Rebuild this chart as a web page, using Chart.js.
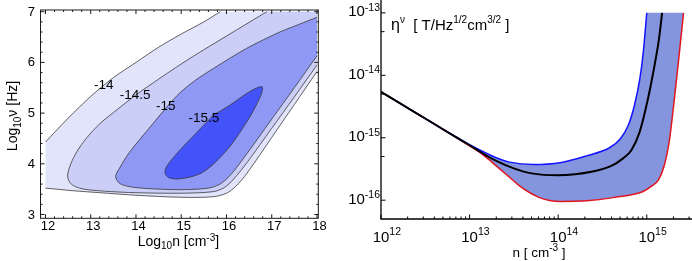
<!DOCTYPE html>
<html>
<head>
<meta charset="utf-8">
<script src="https://cdn.jsdelivr.net/npm/chart.js@4.4.0/dist/chart.umd.min.js"></script>
<style>
  body { margin: 0; background: #fff; }
  #wrap { position: relative; width: 692px; height: 261px; }
  .box { position: absolute; top: 0; width: 346px; height: 261px; }
</style>
</head>
<body>
<div id="wrap">
  <div class="box" style="left:0"><canvas id="contour" width="346" height="261"></canvas></div>
  <div class="box" style="left:346px"><canvas id="eta" width="346" height="261"></canvas></div>
</div>
<script>
// ---- left panel: contour lines of log10(eta), [log10 n, log10 nu] ----
const leftX = [12, 13, 14, 15, 16, 17, 18];
const leftY = [3, 4, 5, 6, 7];

// -14 level: upper branch (left edge -> top edge) and lower branch (left edge -> right edge)
const c14Upper = [[12, 4.43], [12.5, 4.9], [13.0, 5.33], [13.5, 5.7], [14.0, 6.0], [14.5, 6.3], [15.0, 6.56], [15.5, 6.8], [15.86, 7.0]];
const c14Lower = [[12, 3.52], [12.6, 3.47], [13.2, 3.43], [14.0, 3.38], [15.0, 3.34], [15.7, 3.35], [16.0, 3.42], [16.2, 3.55], [16.45, 3.81], [17.0, 4.52], [17.5, 5.17], [18.0, 5.82]];
// -14.5 level: top edge -> bend -> right edge
const c145 = [[16.89, 7.0], [16.5, 6.79], [16.0, 6.52], [15.5, 6.25], [15.0, 5.97], [14.5, 5.67], [14.0, 5.36], [13.6, 5.08], [13.2, 4.79], [12.9, 4.5], [12.7, 4.25], [12.56, 4.0], [12.49, 3.78], [12.53, 3.64], [12.66, 3.55], [12.85, 3.5], [13.3, 3.46], [14.0, 3.43], [15.0, 3.42], [15.7, 3.45], [15.95, 3.53], [16.15, 3.69], [16.45, 4.02], [17.0, 4.7], [17.5, 5.32], [18.0, 5.95]];
// -15 level: right edge -> bend -> right edge
const c15 = [[18.0, 6.89], [17.6, 6.75], [17.18, 6.6], [16.45, 6.28], [15.71, 5.88], [15.3, 5.64], [14.97, 5.4], [14.7, 5.14], [14.27, 4.68], [13.85, 4.22], [13.64, 3.92], [13.55, 3.75], [13.63, 3.62], [13.8, 3.56], [14.0, 3.53], [14.5, 3.5], [15.0, 3.49], [15.6, 3.52], [15.86, 3.6], [16.08, 3.77], [16.37, 4.1], [17.0, 4.88], [17.5, 5.5], [18.0, 6.13]];
// -15.5 level: closed loop
const c155 = [[15.71, 4.96], [16.08, 5.16], [16.45, 5.39], [16.65, 5.49], [16.79, 5.52], [16.78, 5.4], [16.67, 5.18], [16.52, 4.93], [16.1, 4.37], [15.72, 4.0], [15.45, 3.82], [15.2, 3.74], [14.9, 3.7], [14.72, 3.73], [14.64, 3.82], [14.68, 3.95], [14.9, 4.2], [15.27, 4.55], [15.71, 4.96]];

const levelText = ['-14', '-14.5', '-15', '-15.5'];
const levelAt = [[13.29, 5.55], [13.98, 5.36], [14.66, 5.13], [15.5, 4.9]];

// ---- right panel: eta vs n (log-log) ----
const nBlack = [1e12, 2.34e12, 5.5e12, 1e13, 1.41e13, 2.0e13, 3.16e13, 5.01e13, 1.0e14, 2.45e14, 3.98e14, 5.4e14, 6.7e14, 8.3e14, 1.03e15, 1.22e15, 1.37e15, 1.49e15];
const etaBlack = [5.43e-15, 2.63e-15, 1.26e-15, 7.59e-16, 5.62e-16, 4.27e-16, 3.24e-16, 2.69e-16, 2.51e-16, 2.88e-16, 3.55e-16, 4.68e-16, 6.31e-16, 1.23e-15, 4.17e-15, 1.41e-14, 3.72e-14, 1.0e-13];
const nBlue = [1e12, 2.34e12, 5.5e12, 1e13, 1.41e13, 2.0e13, 2.82e13, 5.25e13, 1.05e14, 2.09e14, 3.80e14, 5.01e14, 6.17e14, 7.24e14, 8.32e14, 9.12e14, 1.0e15];
const etaBlue = [5.43e-15, 2.63e-15, 1.26e-15, 7.76e-16, 6.03e-16, 4.79e-16, 4.07e-16, 3.72e-16, 3.98e-16, 5.13e-16, 6.92e-16, 9.55e-16, 1.57e-15, 3.26e-15, 8.5e-15, 2.29e-14, 1.0e-13];
const nRed = [1e12, 2.34e12, 5.5e12, 1e13, 1.41e13, 2.0e13, 3.09e13, 3.72e13, 6.17e13, 1.05e14, 2.09e14, 4.17e14, 9.12e14, 1.12e15, 1.35e15, 1.58e15, 1.81e15, 2.04e15, 2.29e15, 2.60e15];
const etaRed = [5.43e-15, 2.63e-15, 1.26e-15, 7.41e-16, 5.37e-16, 3.55e-16, 2.09e-16, 1.66e-16, 1.10e-16, 9.55e-17, 9.77e-17, 1.10e-16, 1.38e-16, 1.66e-16, 2.09e-16, 3.63e-16, 9.55e-16, 3.98e-15, 1.78e-14, 1.0e-13];

const nTicks = [1e12, 1e13, 1e14, 1e15];
const nTickExp = ['12', '13', '14', '15'];
const etaTicks = [1e-13, 1e-14, 1e-15, 1e-16];
const etaTickExp = ['-13', '-14', '-15', '-16'];
const nMax = 3.24e15;

const FAM = '"Liberation Sans", Arial, Helvetica, sans-serif';

function rich(ctx, parts, x, y, align) {
  let w = 0;
  for (const p of parts) { ctx.font = p.s + 'px ' + FAM; w += ctx.measureText(p.t).width; }
  let cx = align === 'center' ? x - w / 2 : (align === 'right' ? x - w : x);
  ctx.textAlign = 'left';
  ctx.textBaseline = 'alphabetic';
  for (const p of parts) {
    ctx.font = p.s + 'px ' + FAM;
    ctx.fillText(p.t, cx, y - (p.r || 0));
    cx += ctx.measureText(p.t).width;
  }
  return w;
}

const xy = arr => arr.map(p => ({x: p[0], y: p[1]}));
const last = arr => arr[arr.length - 1];

// fill regions built from the contour lines plus the plot corner (18, 7)
const r14 = [...c14Upper, last(c14Upper), [18, 7], [18, 7], last(c14Lower), ...c14Lower.slice().reverse()];
const r145 = [...c145, last(c145), [18, 7]];

function region(pts, color, order) {
  return {data: xy(pts), fill: 'shape', backgroundColor: color, borderColor: 'rgba(0,0,0,0)',
    borderWidth: 0, pointRadius: 0, tension: 0.3, order: order};
}
function contourLine(pts) {
  return {data: xy(pts), fill: false, borderColor: '#3a3a3a', borderWidth: 0.8,
    pointRadius: 0, tension: 0.3, order: 1};
}

const leftDeco = {
  id: 'leftDeco',
  afterDatasetsDraw(chart) {
    const {ctx, chartArea: a} = chart;
    const x = chart.scales.x, y = chart.scales.y;
    ctx.save();
    ctx.fillStyle = '#000';
    ctx.textAlign = 'center';
    ctx.textBaseline = 'middle';
    ctx.font = '13.5px ' + FAM;
    levelText.forEach((t, i) => ctx.fillText(t, x.getPixelForValue(levelAt[i][0]), y.getPixelForValue(levelAt[i][1])));

    ctx.strokeStyle = '#1a1a1a';
    ctx.lineWidth = 1;
    ctx.strokeRect(a.left, a.top, a.right - a.left, a.bottom - a.top);
    ctx.beginPath();
    for (let k = Math.ceil(x.min * 5); k <= Math.floor(x.max * 5); k++) {
      const px = x.getPixelForValue(k / 5), len = k % 5 === 0 ? 4 : 2;
      ctx.moveTo(px, a.bottom); ctx.lineTo(px, a.bottom - len);
      ctx.moveTo(px, a.top); ctx.lineTo(px, a.top + len);
    }
    for (let k = Math.ceil(y.min * 5); k <= Math.floor(y.max * 5); k++) {
      const py = y.getPixelForValue(k / 5), len = k % 5 === 0 ? 4 : 2;
      ctx.moveTo(a.left, py); ctx.lineTo(a.left + len, py);
      ctx.moveTo(a.right, py); ctx.lineTo(a.right - len, py);
    }
    ctx.stroke();

    ctx.font = '13px ' + FAM;
    ctx.textAlign = 'center';
    ctx.textBaseline = 'alphabetic';
    leftX.forEach(v => ctx.fillText(String(v), x.getPixelForValue(v) + 2.5, 230));
    ctx.textAlign = 'right';
    ctx.textBaseline = 'middle';
    leftY.forEach(v => ctx.fillText(String(v), 35, y.getPixelForValue(v) + 0.5));

    rich(ctx, [{t: 'Log', s: 14}, {t: '10', s: 10, r: -3.5}, {t: 'n [cm', s: 14}, {t: '-3', s: 10, r: 5}, {t: ']', s: 14}],
      (a.left + a.right) / 2 - 1, 245.5, 'center');
    ctx.translate(17, 116);
    ctx.rotate(-Math.PI / 2);
    rich(ctx, [{t: 'Log', s: 14}, {t: '10', s: 10, r: -3.5}, {t: 'ν [Hz]', s: 14}], 0, 0, 'center');
    ctx.restore();
  }
};

new Chart(document.getElementById('contour'), {
  type: 'line',
  data: {
    datasets: [
      region(r14, '#e2e4fb', 10),
      region(r145, '#cbcff8', 9),
      region(c15, '#8f98f4', 8),
      region(c155, '#4452fa', 7),
      contourLine(c14Upper),
      contourLine(c14Lower),
      contourLine(c145),
      contourLine(c15),
      contourLine(c155)
    ]
  },
  options: {
    responsive: false,
    animation: false,
    events: [],
    layout: {padding: {left: 40.5, right: 27.7, top: 10, bottom: 42.7}},
    scales: {
      x: {type: 'linear', min: 11.89, max: 18.029, display: false},
      y: {type: 'linear', min: 2.925, max: 7.034, display: false}
    },
    plugins: {legend: {display: false}, tooltip: {enabled: false}, filler: {drawTime: 'beforeDatasetsDraw'}}
  },
  plugins: [leftDeco]
});

// ---- right panel ----
const pairs = (ns, es) => ns.map((n, i) => ({x: n, y: es[i]}));
const bandColor = 'rgb(132,149,221)';

const rightDeco = {
  id: 'rightDeco',
  afterDatasetsDraw(chart) {
    const {ctx, chartArea: a} = chart;
    const x = chart.scales.x, y = chart.scales.y;
    ctx.save();
    ctx.strokeStyle = '#000';
    ctx.lineWidth = 1.3;
    ctx.beginPath();
    ctx.moveTo(a.left, a.top); ctx.lineTo(a.left, a.bottom); ctx.lineTo(a.right, a.bottom);
    ctx.stroke();

    ctx.lineWidth = 1;
    ctx.beginPath();
    for (let e = 12; e <= 15; e++) {
      for (let m = 1; m <= 9; m++) {
        const v = m * Math.pow(10, e);
        if (v > x.max) continue;
        const px = x.getPixelForValue(v), len = m === 1 ? 4.5 : 2.5;
        ctx.moveTo(px, a.bottom); ctx.lineTo(px, a.bottom - len);
      }
    }
    for (let e = -16; e <= -13; e++) {
      for (const m of [1, 5]) {
        const v = m * Math.pow(10, e);
        if (v < y.min || v > y.max) continue;
        const py = y.getPixelForValue(v), len = m === 1 ? 4.5 : 3.5;
        ctx.moveTo(a.left, py); ctx.lineTo(a.left + len, py);
      }
    }
    ctx.stroke();

    ctx.fillStyle = '#000';
    nTicks.forEach((v, i) => {
      const px = x.getPixelForValue(v);
      ctx.font = '15px ' + FAM;
      const w = ctx.measureText('10').width;
      rich(ctx, [{t: '10', s: 15}, {t: nTickExp[i], s: 10.5, r: 6.5}], px - w / 2, 241.5, 'left');
    });
    etaTicks.forEach((v, i) => {
      const py = y.getPixelForValue(v);
      rich(ctx, [{t: '10', s: 15}, {t: etaTickExp[i], s: 10.5, r: 5.5}], a.left - 1, py + 3.5, 'right');
    });

    rich(ctx, [{t: 'n [ cm', s: 13.5}, {t: '-3', s: 10, r: 6}, {t: ' ]', s: 13.5}], 193, 257, 'center');
    rich(ctx, [{t: 'η', s: 16}, {t: 'ν', s: 10, r: 6.5}, {t: '  [ T/Hz', s: 15}, {t: '1/2', s: 10, r: 6.5},
      {t: 'cm', s: 15}, {t: '3/2', s: 10, r: 6.5}, {t: ' ]', s: 15}], 45, 29.5, 'left');
    ctx.restore();
  }
};

// band = area above the red curve, with white laid over the area above the blue
// curve and above the 1e-13 cut-off
new Chart(document.getElementById('eta'), {
  type: 'line',
  data: {
    datasets: [
      {label: 'mean', data: pairs(nBlack, etaBlack), borderColor: '#000', borderWidth: 2, fill: false,
        pointRadius: 0, cubicInterpolationMode: 'monotone', order: 1},
      {label: 'cut', data: [{x: nTicks[0], y: etaTicks[0]}, {x: nMax, y: etaTicks[0]}],
        borderColor: 'rgba(0,0,0,0)', borderWidth: 0, backgroundColor: '#fff', fill: 'end',
        pointRadius: 0, order: 2},
      {label: 'upper', data: pairs(nBlue, etaBlue), borderColor: '#1414ff', borderWidth: 1.5,
        backgroundColor: '#fff', fill: 'end', pointRadius: 0, cubicInterpolationMode: 'monotone', order: 3},
      {label: 'lower', data: pairs(nRed, etaRed), borderColor: '#e0161f', borderWidth: 1.5,
        backgroundColor: bandColor, fill: 'end', pointRadius: 0, cubicInterpolationMode: 'monotone', order: 4}
    ]
  },
  options: {
    responsive: false,
    animation: false,
    events: [],
    layout: {padding: {left: 35, right: 0, top: 0, bottom: 42}},
    scales: {
      x: {type: 'logarithmic', min: 1e12, max: nMax, display: false},
      y: {type: 'logarithmic', min: 5.37e-17, max: 1.607e-13, display: false}
    },
    plugins: {legend: {display: false}, tooltip: {enabled: false}, filler: {drawTime: 'beforeDatasetsDraw'}}
  },
  plugins: [rightDeco]
});
</script>
</body>
</html>
